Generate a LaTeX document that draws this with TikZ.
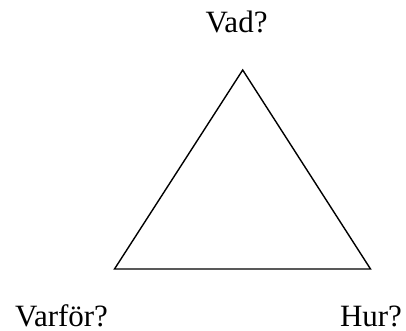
\documentclass[tikz,border=0pt]{standalone}
\usepackage{fontspec}
\setmainfont{Liberation Serif}
\begin{document}
\begin{tikzpicture}[x=1pt,y=-1pt,
  lbl/.style={anchor=base,inner sep=0pt,font=\fontsize{31}{37}\selectfont},
  tri/.style={line width=1.4pt,line join=miter}]
\useasboundingbox (0,0) rectangle (406,331);
\coordinate (top) at (242.7,70);
\coordinate (bl) at (114.5,269);
\coordinate (br) at (370.5,269);
\draw[tri] (top) -- (bl) -- (br) -- cycle;
\node[lbl] (vad) at (236.5,33) {Vad?};
\node[lbl] (varfor) at (61.5,326.5) {Varför?};
\node[lbl] (hur) at (371,326.5) {Hur?};
\end{tikzpicture}
\end{document}
